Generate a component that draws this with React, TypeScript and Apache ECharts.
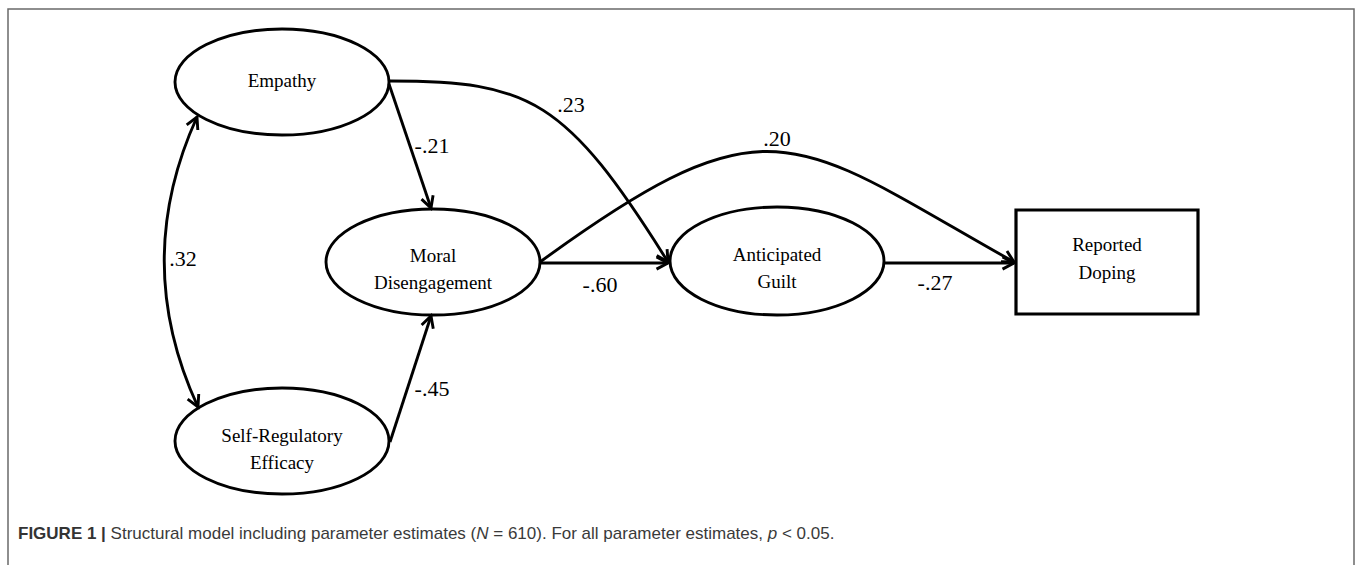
import React, { useEffect, useRef } from "react";
import * as echarts from "echarts";

// ---- Model content ----
const nodeIds = ["emp", "mor", "srg", "gui", "dop"];
const nodeLabels = [
  ["Empathy"],
  ["Moral", "Disengagement"],
  ["Self-Regulatory", "Efficacy"],
  ["Anticipated", "Guilt"],
  ["Reported", "Doping"],
];
const nodeKinds = ["latent", "latent", "latent", "latent", "observed"];

const pathFrom = ["emp", "emp", "mor", "mor", "gui", "srg", "emp"];
const pathTo = ["mor", "gui", "dop", "gui", "dop", "mor", "srg"];
const pathCoefs = [-0.21, 0.23, 0.2, -0.6, -0.27, -0.45, 0.32];
const pathTwoWay = [false, false, false, false, false, false, true];

const captionBold = "FIGURE 1 |";
const captionText = " Structural model including parameter estimates (";
const captionN = "N";
const captionMid = " = 610). For all parameter estimates, ";
const captionP = "p";
const captionEnd = " < 0.05.";

// ---- Layout (pixel geometry, kept apart from the data) ----
const nodeGeom: Record<string, any> = {
  emp: { cx: 282, cy: 82, rx: 107, ry: 53, textY: [80] },
  mor: { cx: 433, cy: 262, rx: 107, ry: 53, textY: [255, 282] },
  srg: { cx: 282, cy: 441, rx: 107, ry: 53, textY: [435, 462] },
  gui: { cx: 777, cy: 261, rx: 107, ry: 54, textY: [254, 281] },
  dop: { x: 1016, y: 210, w: 182, h: 104, cx: 1107, textY: [244, 272] },
};

// p0, optional c1, c2 (cubic) or c (quadratic), p3, label position
const pathGeom: any[] = [
  { p0: [389, 84], p3: [431, 208], label: [432, 145] },
  { p0: [390, 81], c1: [530, 81], c2: [566, 99], p3: [668, 262], label: [571, 104] },
  { p0: [540, 262], c1: [772, 93], c2: [793, 138], p3: [1014, 262], label: [777, 138] },
  { p0: [540, 263], p3: [668, 263], label: [600, 284] },
  { p0: [884, 263], p3: [1014, 263], label: [935, 282] },
  { p0: [390, 442], p3: [431, 316], label: [432, 388] },
  { p0: [197, 117], c: [131, 262], p3: [198, 407], label: [183, 258] },
];

const fmtCoef = (v: number) => {
  const s = Math.abs(v).toFixed(2).replace(/^0/, "");
  return (v < 0 ? "-" : "") + s;
};

const LW = 2.9;
const serif = "'Liberation Serif', 'DejaVu Serif', serif";

function arrowHead(tip: number[], from: number[]) {
  const dx = tip[0] - from[0];
  const dy = tip[1] - from[1];
  const len = Math.hypot(dx, dy) || 1;
  const ux = dx / len;
  const uy = dy / len;
  const L = 13;
  const a = (28 * Math.PI) / 180;
  const ca = Math.cos(a);
  const sa = Math.sin(a);
  const r1 = [ux * ca - uy * sa, ux * sa + uy * ca];
  const r2 = [ux * ca + uy * sa, -ux * sa + uy * ca];
  return {
    type: "polyline",
    shape: {
      points: [
        [tip[0] - L * r1[0], tip[1] - L * r1[1]],
        [tip[0], tip[1]],
        [tip[0] - L * r2[0], tip[1] - L * r2[1]],
      ],
    },
    style: { stroke: "#000", lineWidth: LW, fill: null, lineJoin: "miter" },
  };
}

function buildGraphic() {
  const els: any[] = [];
  // frame
  els.push({
    type: "polyline",
    shape: { points: [[8, 570], [8, 9], [1354, 9], [1354, 570]] },
    style: { stroke: "#6a6a6a", lineWidth: 1.5, fill: null },
  });

  nodeIds.forEach((id, i) => {
    const g = nodeGeom[id];
    if (nodeKinds[i] === "latent") {
      els.push({
        type: "ellipse",
        shape: { cx: g.cx, cy: g.cy, rx: g.rx, ry: g.ry },
        style: { stroke: "#000", lineWidth: LW, fill: "#fff" },
      });
    } else {
      els.push({
        type: "rect",
        shape: { x: g.x, y: g.y, width: g.w, height: g.h },
        style: { stroke: "#000", lineWidth: 3.2, fill: "#fff" },
      });
    }
    nodeLabels[i].forEach((line, k) => {
      els.push({
        type: "text",
        x: g.cx,
        y: g.textY[k],
        style: {
          text: line,
          fill: "#000",
          fontFamily: serif,
          fontSize: 19,
          align: "center",
          verticalAlign: "middle",
          textAlign: "center",
          textVerticalAlign: "middle",
        },
      });
    });
  });

  pathFrom.forEach((from, i) => {
    const g = pathGeom[i];
    let endFrom: number[];
    let startFrom: number[];
    if (g.c1) {
      els.push({
        type: "bezierCurve",
        shape: {
          x1: g.p0[0], y1: g.p0[1], x2: g.p3[0], y2: g.p3[1],
          cpx1: g.c1[0], cpy1: g.c1[1], cpx2: g.c2[0], cpy2: g.c2[1],
        },
        style: { stroke: "#000", lineWidth: LW, fill: null },
      });
      endFrom = g.c2;
      startFrom = g.c1;
    } else if (g.c) {
      els.push({
        type: "bezierCurve",
        shape: {
          x1: g.p0[0], y1: g.p0[1], x2: g.p3[0], y2: g.p3[1],
          cpx1: g.c[0], cpy1: g.c[1],
        },
        style: { stroke: "#000", lineWidth: LW, fill: null },
      });
      endFrom = g.c;
      startFrom = g.c;
    } else {
      els.push({
        type: "line",
        shape: { x1: g.p0[0], y1: g.p0[1], x2: g.p3[0], y2: g.p3[1] },
        style: { stroke: "#000", lineWidth: LW },
      });
      endFrom = g.p0;
      startFrom = g.p3;
    }
    els.push(arrowHead(g.p3, endFrom));
    if (pathTwoWay[i]) els.push(arrowHead(g.p0, startFrom));
    els.push({
      type: "text",
      x: g.label[0],
      y: g.label[1],
      style: {
        text: fmtCoef(pathCoefs[i]),
        fill: "#000",
        fontFamily: serif,
        fontSize: 22,
        align: "center",
        verticalAlign: "middle",
        textAlign: "center",
        textVerticalAlign: "middle",
      },
    });
  });

  els.push({
    type: "text",
    x: 18,
    y: 533,
    style: {
      text:
        "{b|" + captionBold + "}" + captionText + "{i|" + captionN + "}" +
        captionMid + "{i|" + captionP + "}" + captionEnd,
      fill: "#3a3a3a",
      fontFamily: "'Liberation Sans', Arial, sans-serif",
      fontSize: 17,
      align: "left",
      verticalAlign: "middle",
      textAlign: "left",
      textVerticalAlign: "middle",
      rich: {
        b: { fontWeight: "bold", fontFamily: "'Liberation Sans', Arial, sans-serif", fontSize: 17, fill: "#333" },
        i: { fontStyle: "italic", fontFamily: "'Liberation Sans', Arial, sans-serif", fontSize: 17, fill: "#3a3a3a" },
      },
    },
  });
  return els;
}

export default function App() {
  const ref = useRef<HTMLDivElement>(null);
  useEffect(() => {
    if (!ref.current) return;
    const chart = echarts.init(ref.current, undefined, { renderer: "svg" });
    chart.setOption({
      animation: false,
      backgroundColor: "#fff",
      graphic: { elements: buildGraphic() },
    });
    return () => chart.dispose();
  }, []);
  return (
    <div
      ref={ref}
      style={{ position: "absolute", left: 0, top: 0, width: 1358, height: 565 }}
    />
  );
}
